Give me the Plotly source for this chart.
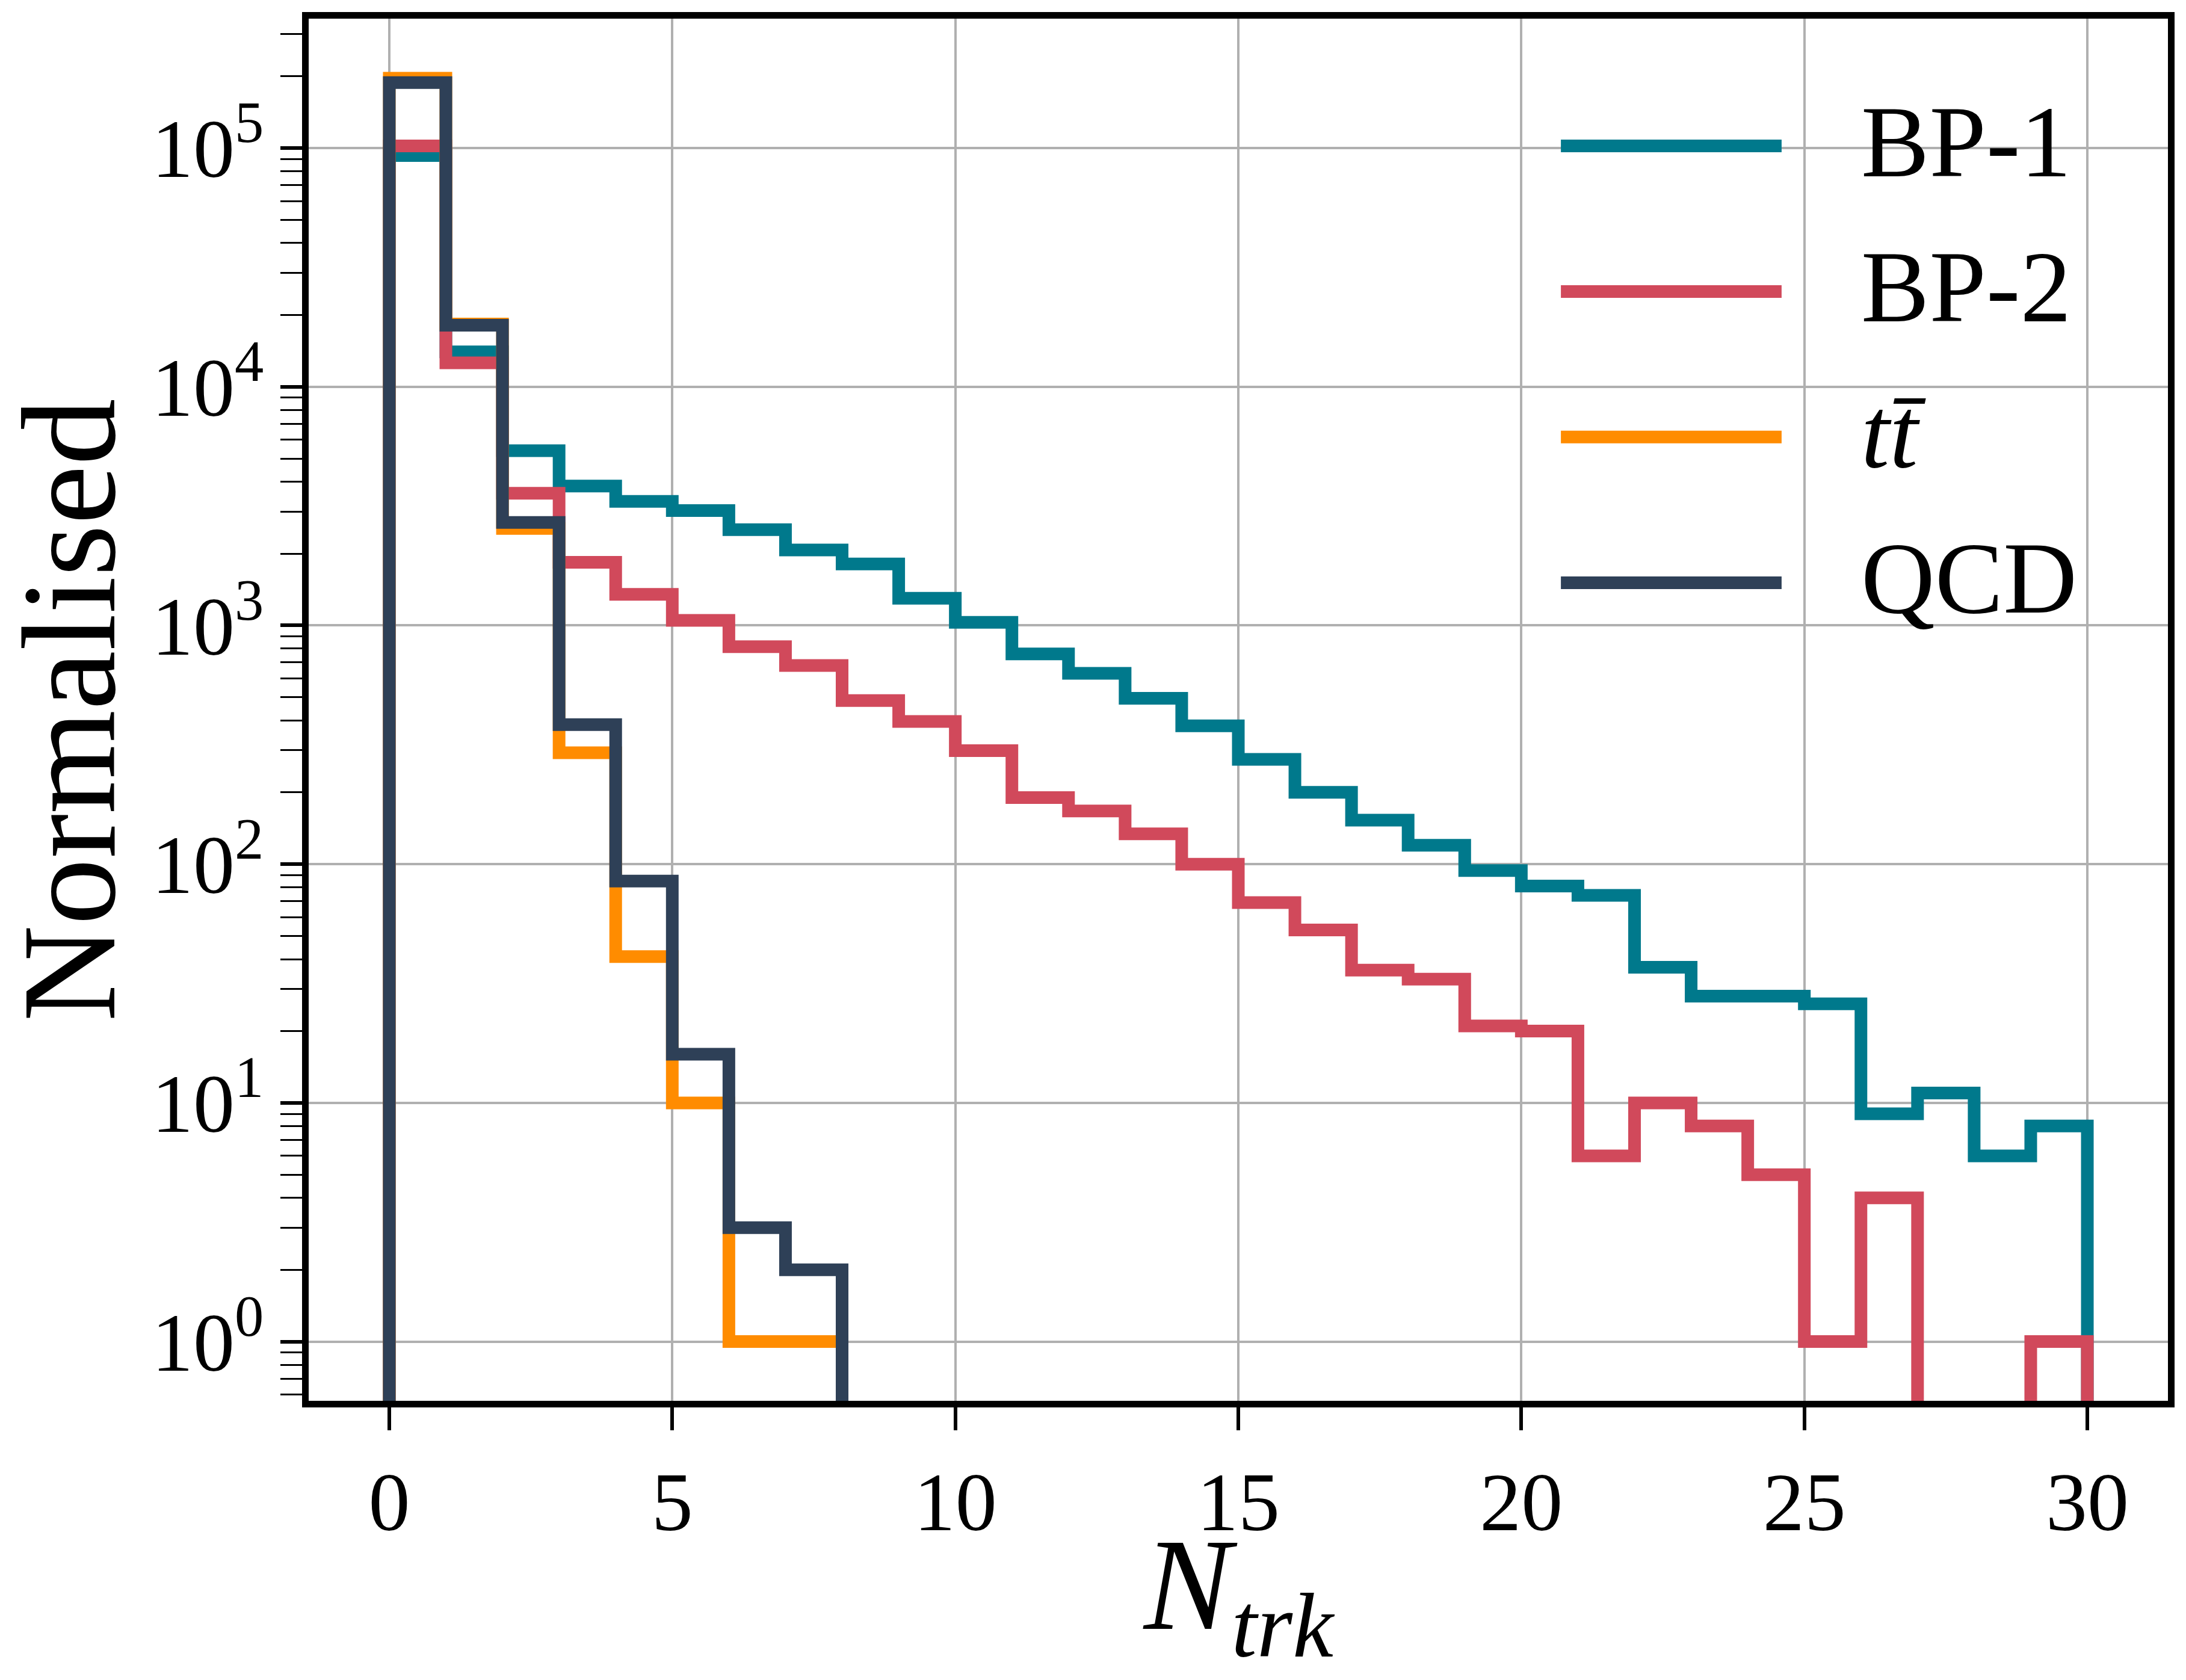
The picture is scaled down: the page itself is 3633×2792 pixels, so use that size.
import plotly.graph_objects as go

# bin edges of the track-multiplicity histogram
edges = list(range(0, 31))

# counts per bin
bp1 = [93000, 14000, 5400, 3840, 3310, 3030, 2520, 2070, 1810, 1300,
       1030, 760, 630, 495, 380, 275, 200, 153, 120, 94,
       81, 74, 37, 28, 28, 26, 9, 11, 6, 8]
bp2 = [102000, 12600, 3580, 1840, 1350, 1050, 815, 680, 485, 396,
       299, 190, 167, 134, 100, 69, 53, 36, 33, 21,
       20, 6, 10, 8, 5, 1, 4, 0, 0, 1]
ttbar = [196000, 18300, 2550, 293, 41, 10, 1, 1, 0, 0,
         0, 0, 0, 0, 0, 0, 0, 0, 0, 0,
         0, 0, 0, 0, 0, 0, 0, 0, 0, 0]
qcd = [188000, 18100, 2700, 384, 85, 16, 3, 2, 0, 0,
       0, 0, 0, 0, 0, 0, 0, 0, 0, 0,
       0, 0, 0, 0, 0, 0, 0, 0, 0, 0]

labels = ["BP-1", "BP-2", "<i>t</i><i>t̄</i>", "QCD"]
colors = ["#00798c", "#d1495b", "#ff8c00", "#2e4057"]
series = [bp1, bp2, ttbar, qcd]

y_tick_vals = [1, 10, 100, 1000, 10000, 100000]
y_tick_text = ["10<sup>%d</sup>" % k for k in range(6)]

FONT = "Liberation Serif"
FLOOR = 1e-3  # empty bins drop below the visible range


def step_xy(vals):
    ys = [v if v > 0 else FLOOR for v in vals]
    xs = [edges[0]] + edges[:-1] + [edges[-1], edges[-1]]
    ys = [FLOOR] + ys + [ys[-1], FLOOR]
    return xs, ys


fig = go.Figure()
for name, vals, col in zip(labels, series, colors):
    xs, ys = step_xy(vals)
    fig.add_trace(go.Scatter(x=xs, y=ys, mode="lines", name=name,
                             line=dict(color=col, width=21, shape="hv"),
                             showlegend=False))

# hand-made legend (long line samples like matplotlib)
leg_y = [0.9079, 0.8026, 0.6973, 0.5919]
for name, col, ly in zip(labels, colors, leg_y):
    fig.add_shape(type="line", xref="x domain", yref="y domain",
                  x0=0.6735, x1=0.7922, y0=ly, y1=ly,
                  line=dict(color=col, width=21))
    fig.add_annotation(xref="x domain", yref="y domain", x=0.8343, y=ly, yshift=7,
                       text=name, showarrow=False, xanchor="left", yanchor="middle",
                       font=dict(family=FONT, size=170, color="black"))

# axis titles
fig.add_annotation(xref="paper", yref="paper", x=-0.129, y=0.5,
                   text="Normalised", textangle=-90, showarrow=False,
                   xanchor="center", yanchor="middle",
                   font=dict(family=FONT, size=222, color="black"))
fig.add_annotation(xref="paper", yref="paper", x=0.5, y=-0.140,
                   text="<i>N</i><sub><i>trk</i></sub>", showarrow=False,
                   xanchor="center", yanchor="middle",
                   font=dict(family=FONT, size=218, color="black"))

fig.update_xaxes(range=[-1.424, 31.424], tickmode="array", tickvals=[0, 5, 10, 15, 20, 25, 30],
                 ticks="outside", ticklen=38, tickwidth=6, tickcolor="black",
                 showgrid=True, gridcolor="#b0b0b0", gridwidth=4, zeroline=False,
                 showline=True, linecolor="black", linewidth=11, mirror=True,
                 tickfont=dict(family=FONT, size=138, color="black"))

minor_vals = [m * 10 ** k for k in range(-1, 6) for m in range(2, 10)]
fig.update_yaxes(type="log", range=[-0.248, 5.542], tickmode="array",
                 tickvals=y_tick_vals, ticktext=y_tick_text,
                 ticks="outside", ticklen=36, tickwidth=6, tickcolor="black",
                 minor=dict(tickmode="array", tickvals=minor_vals, ticks="outside",
                            ticklen=36, tickwidth=3, tickcolor="black", showgrid=False),
                 showgrid=True, gridcolor="#b0b0b0", gridwidth=4, zeroline=False,
                 showline=True, linecolor="black", linewidth=11, mirror=True,
                 tickfont=dict(family=FONT, size=138, color="black"))

fig.update_layout(width=3633, height=2792, plot_bgcolor="white", paper_bgcolor="white",
                  margin=dict(l=513, r=30, t=31, b=464, autoexpand=False),
                  showlegend=False)

fig.write_html("out.html", config={"displayModeBar": False},
               post_script="document.body.style.margin = '0';")
